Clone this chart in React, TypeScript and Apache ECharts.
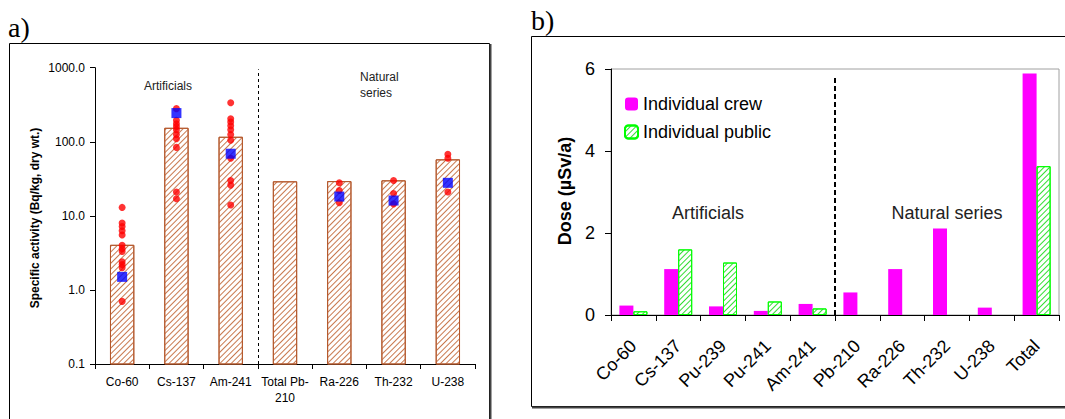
import React, { useEffect, useRef } from "react";
import * as echarts from "echarts";

const FONT = 'Arial, "Liberation Sans", sans-serif';
const SERIF = '"Times New Roman", "Liberation Serif", serif';

// a) specific activity per radionuclide (Bq/kg, dry wt.), log scale
const activityCats = ["Co-60", "Cs-137", "Am-241", "Total Pb-\n210", "Ra-226", "Th-232", "U-238"];
const activityMean = [4.0, 152, 115, 28.8, 29, 29.7, 57];
const activityBlue = [1.5, 244, 69, null, 18.2, 16.1, 27.9];
const coDots = [13, 8, 7.2, 6.3, 5.5, 4.0, 3.6, 3.3, 2.4, 2.2, 2.0, 0.7];
const csDots = [280, 195, 175, 160, 145, 125, 110, 84, 21, 17];
const amDots = [337, 205, 185, 165, 145, 125, 105, 60, 30, 26, 14];
const pbDots: number[] = [];
const raDots = [28, 22, 15];
const thDots = [30, 20, 14.5];
const uDots = [68, 60, 21];
const activityDots = [coDots, csDots, amDots, pbDots, raDots, thDots, uDots];
const LOG_MIN = 0.1;
const LOG_MAX = 1000;

// b) dose (µSv/a)
const doseCats = ["Co-60", "Cs-137", "Pu-239", "Pu-241", "Am-241", "Pb-210", "Ra-226", "Th-232", "U-238", "Total"];
const crewDose = [0.23, 1.12, 0.21, 0.1, 0.27, 0.55, 1.12, 2.11, 0.18, 5.89];
const publicDose = [0.09, 1.6, 1.28, 0.33, 0.16, null, null, null, null, 3.63];

const axisBlack = { lineStyle: { color: "#000", width: 1 } };

// "/" hatching drawn as a decal over a white fill
const hatch = (color: string) => ({
  symbol: "rect",
  symbolSize: 1,
  dashArrayX: [1, 0],
  dashArrayY: [1, 3],
  rotation: -Math.PI / 4,
  color,
});

export default function App() {
  const ref = useRef<HTMLDivElement>(null);

  useEffect(() => {
    if (!ref.current) return;
    const chart = echarts.init(ref.current, null, { renderer: "svg" });

    const dotData: [number, number][] = [];
    activityDots.forEach((vals, i) => vals.forEach((v) => dotData.push([i, v])));
    const blueData = activityBlue
      .map((v, i) => (v == null ? null : [i, v]))
      .filter((d) => d !== null);
    const meanData = activityMean.map((v, i) => [i, v]);

    const option: any = {
      animation: false,
      textStyle: { fontFamily: FONT },
      grid: [
        { left: 95, right: 590, top: 67.7, bottom: 55 },
        {
          left: 611,
          right: 6,
          top: 69,
          bottom: 104,
          show: true,
          borderColor: "#a0a0a0",
          borderWidth: 1,
          backgroundColor: "transparent",
        },
      ],
      xAxis: [
        {
          gridIndex: 0,
          type: "category",
          data: activityCats,
          axisLine: axisBlack,
          axisTick: { show: true, length: 5, lineStyle: { color: "#000" } },
          axisLabel: { interval: 0, fontSize: 12, color: "#000", margin: 10, lineHeight: 16 },
        },
        {
          gridIndex: 1,
          type: "category",
          data: doseCats,
          axisLine: axisBlack,
          axisTick: { show: true, length: 6, lineStyle: { color: "#000" } },
          axisLabel: { interval: 0, rotate: 45, fontSize: 18, color: "#000", margin: 28 },
        },
        { gridIndex: 0, type: "value", min: 0, max: 7, show: false },
        { gridIndex: 1, type: "value", min: 0, max: 10, show: false },
      ],
      yAxis: [
        {
          gridIndex: 0,
          type: "log",
          logBase: 10,
          min: LOG_MIN,
          max: LOG_MAX,
          axisLine: { show: true, ...axisBlack },
          axisTick: { show: true, length: 5, lineStyle: { color: "#000" } },
          axisLabel: {
            fontSize: 12,
            color: "#000",
            margin: 10,
            formatter: (v: number) => Number(v).toFixed(1),
          },
          splitLine: { show: false },
        },
        {
          gridIndex: 1,
          type: "value",
          min: 0,
          max: 6,
          interval: 2,
          axisLine: { show: true, ...axisBlack },
          axisTick: { show: true, length: 6, lineStyle: { color: "#000" } },
          axisLabel: { fontSize: 18, color: "#000", margin: 16 },
          splitLine: { show: false },
        },
      ],
      legend: {
        orient: "vertical",
        left: 624,
        top: 95,
        padding: 0,
        itemWidth: 13,
        itemHeight: 13,
        itemGap: 10,
        textStyle: { fontSize: 18, color: "#000", fontFamily: FONT },
        data: ["Individual crew", "Individual public"],
      },
      series: [
        {
          // bars rise from the bottom of the log axis
          name: "Mean activity",
          type: "custom",
          xAxisIndex: 0,
          yAxisIndex: 0,
          data: meanData,
          z: 2,
          renderItem: (params: any, api: any) => {
            const i = api.value(0);
            const top = api.coord([i, api.value(1)]);
            const bottom = api.coord([i, LOG_MIN]);
            const w = api.size([1, 1])[0] * 0.43;
            return {
              type: "rect",
              shape: { x: top[0] - w / 2, y: top[1], width: w, height: bottom[1] - top[1] },
              style: { fill: "#fff", stroke: "#b4582c", lineWidth: 1, decal: hatch("#c8784e") },
            };
          },
        },
        {
          name: "Samples",
          type: "scatter",
          xAxisIndex: 0,
          yAxisIndex: 0,
          data: dotData,
          symbol: "circle",
          symbolSize: 7,
          itemStyle: { color: "#ff0000" },
          z: 3,
        },
        {
          name: "Reference",
          type: "scatter",
          xAxisIndex: 0,
          yAxisIndex: 0,
          data: blueData,
          symbol: "rect",
          symbolSize: 10,
          itemStyle: { color: "#0000ff" },
          z: 4,
        },
        {
          name: "divider a",
          type: "line",
          xAxisIndex: 2,
          yAxisIndex: 0,
          data: [],
          silent: true,
          markLine: {
            silent: true,
            symbol: ["none", "none"],
            label: { show: false },
            lineStyle: { type: [3, 3], color: "#000", width: 1 },
            data: [[{ coord: [3, LOG_MIN] }, { coord: [3, 950] }]],
          },
        },
        {
          name: "Individual crew",
          type: "bar",
          xAxisIndex: 1,
          yAxisIndex: 1,
          data: crewDose,
          barWidth: 14,
          barGap: "0%",
          itemStyle: { color: "#ff00ff" },
        },
        {
          name: "Individual public",
          type: "bar",
          xAxisIndex: 1,
          yAxisIndex: 1,
          data: publicDose,
          barWidth: 14,
          barGap: "0%",
          itemStyle: { color: "#fff", borderColor: "#00ff00", borderWidth: 1, decal: hatch("#33dd33") },
        },
        {
          name: "divider b",
          type: "line",
          xAxisIndex: 3,
          yAxisIndex: 1,
          data: [],
          silent: true,
          markLine: {
            silent: true,
            symbol: ["none", "none"],
            label: { show: false },
            lineStyle: { type: [5, 3], color: "#000", width: 2 },
            data: [[{ coord: [5, 0] }, { coord: [5, 5.85] }]],
          },
        },
      ],
      graphic: [
        // panel frames
        {
          type: "rect",
          shape: { x: 9.5, y: 43.5, width: 480, height: 400 },
          style: { fill: "none", stroke: "#000", lineWidth: 1 },
          silent: true,
        },
        {
          type: "line",
          shape: { x1: 490.5, y1: 44, x2: 490.5, y2: 419 },
          style: { stroke: "#444", lineWidth: 2 },
          silent: true,
        },
        {
          type: "rect",
          shape: { x: 531.5, y: 36.5, width: 560, height: 370 },
          style: { fill: "none", stroke: "#000", lineWidth: 1 },
          silent: true,
        },
        {
          type: "line",
          shape: { x1: 532, y1: 407.5, x2: 1065, y2: 407.5 },
          style: { stroke: "#444", lineWidth: 2 },
          silent: true,
        },
        // panel letters
        {
          type: "text",
          x: 8,
          y: 41,
          style: { text: "a)", font: `28px ${SERIF}`, fill: "#000", verticalAlign: "bottom" },
          silent: true,
        },
        {
          type: "text",
          x: 531,
          y: 34,
          style: { text: "b)", font: `28px ${SERIF}`, fill: "#000", verticalAlign: "bottom" },
          silent: true,
        },
        // panel a annotations
        {
          type: "text",
          x: 168,
          y: 86,
          style: { text: "Artificials", font: `12px ${FONT}`, fill: "#222", align: "center", verticalAlign: "middle" },
          silent: true,
        },
        {
          type: "text",
          x: 360,
          y: 69,
          style: {
            text: "Natural\nseries",
            font: `12px ${FONT}`,
            lineHeight: 16,
            fill: "#222",
            align: "left",
            verticalAlign: "top",
          },
          silent: true,
        },
        {
          type: "text",
          x: 35,
          y: 218,
          rotation: Math.PI / 2,
          style: {
            text: "Specific activity (Bq/kg, dry wt.)",
            font: `bold 12px ${FONT}`,
            fill: "#000",
            align: "center",
            verticalAlign: "middle",
          },
          silent: true,
        },
        // panel b annotations
        {
          type: "text",
          x: 708,
          y: 213,
          style: { text: "Artificials", font: `18px ${FONT}`, fill: "#222", align: "center", verticalAlign: "middle" },
          silent: true,
        },
        {
          type: "text",
          x: 947,
          y: 213,
          style: { text: "Natural series", font: `18px ${FONT}`, fill: "#222", align: "center", verticalAlign: "middle" },
          silent: true,
        },
        {
          type: "text",
          x: 565,
          y: 191,
          rotation: Math.PI / 2,
          style: {
            text: "Dose (µSv/a)",
            font: `bold 18px ${FONT}`,
            fill: "#000",
            align: "center",
            verticalAlign: "middle",
          },
          silent: true,
        },
      ],
    };

    chart.setOption(option);
    return () => chart.dispose();
  }, []);

  return (
    <div
      ref={ref}
      style={{ position: "absolute", left: 0, top: 0, width: 1065, height: 419, background: "#fff" }}
    />
  );
}
